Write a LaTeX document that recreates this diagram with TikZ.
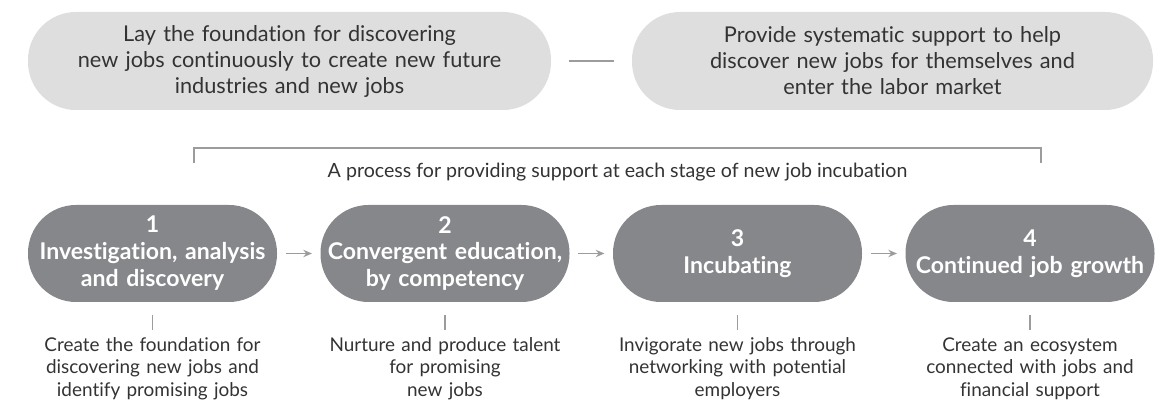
\documentclass[tikz,border=0pt]{standalone}
\usepackage{fontspec}
\setmainfont[Ligatures=NoCommon]{Lato}
\usetikzlibrary{arrows.meta}
\definecolor{pillgray}{HTML}{DEDEDE}
\definecolor{stagegray}{HTML}{86878B}
\definecolor{linegray}{HTML}{9C9C9C}
\definecolor{txtgray}{HTML}{333333}
\tikzset{every picture/.style={line width=0.75pt}}
\tikzset{
  goal/.style={fill=pillgray, rounded corners=36pt, minimum height=73.5pt, text width=385pt, align=center,
    text=txtgray, font=\fontsize{16.3}{19.5}\selectfont, inner sep=0pt},
  stage/.style={fill=stagegray, rounded corners=36pt, minimum width=186.75pt, minimum height=72.75pt,
    text width=186pt, align=center, text=white, font=\fontsize{17.3}{20.2}\selectfont\bfseries, inner sep=0pt},
  detail/.style={text width=200pt, align=center, text=txtgray, font=\fontsize{14.2}{16.9}\selectfont, inner sep=0pt},
  thin/.style={draw=linegray, line width=1.1pt},
}

\begin{document}
\begin{tikzpicture}[x=0.75pt,y=0.75pt,yscale=-1,xscale=1]
	\useasboundingbox (0,0) rectangle (1159,402);

	% Goal pills
	\node[goal, minimum width=392.25pt] (goalA) at (289.5,61) {Lay the foundation for discovering\\new jobs continuously to create new future\\industries and new jobs};
	\node[goal, minimum width=390.75pt] (goalB) at (892.5,61) {Provide systematic support to help\\discover new jobs for themselves and\\enter the labor market};
	\draw[thin, shorten <=12.75pt, shorten >=13.5pt] (goalA.east) -- (goalB.west);

	% Bracket and caption
	\coordinate (brL) at (194,163);
	\coordinate (brR) at (1041,163);
	\draw[thin] (brL) -- ++(0,-15) -| (brR);
	\node[text=txtgray, font=\fontsize{14.7}{17}\selectfont] (caption) at (617.5,172) {A process for providing support at each stage of new job incubation};

	% Stages
	\node[stage] (stage1) at (152.5,253.5) {1\\Investigation, analysis\\and discovery};
	\node[stage] (stage2) at (445,253.5) {2\\Convergent education,\\by competency};
	\node[stage] (stage3) at (737.5,253.5) {3\\Incubating};
	\node[stage] (stage4) at (1030,253.5) {4\\Continued job growth};

	\foreach \a/\b in {stage1/stage2,stage2/stage3,stage3/stage4}
	  \draw[thin, -{Stealth[length=6.5pt,width=5.5pt]}, shorten <=6pt, shorten >=6pt] (\a.east) -- (\b.west);

	% Details
	\node[detail, anchor=north] (detail1) at (152.5,337) {Create the foundation for\\discovering new jobs and\\identify promising jobs};
	\node[detail, anchor=north] (detail2) at (445,337) {Nurture and produce talent\\for promising\\new jobs};
	\node[detail, anchor=north] (detail3) at (737.5,337) {Invigorate new jobs through\\networking with potential\\employers};
	\node[detail, anchor=north] (detail4) at (1030,337) {Create an ecosystem\\connected with jobs and\\financial support};

	\foreach \i in {1,...,4}
	  \draw[thin, shorten <=9.75pt, shorten >=5pt] (stage\i.south) -- (detail\i.north);

	\end{tikzpicture}
\end{document}
